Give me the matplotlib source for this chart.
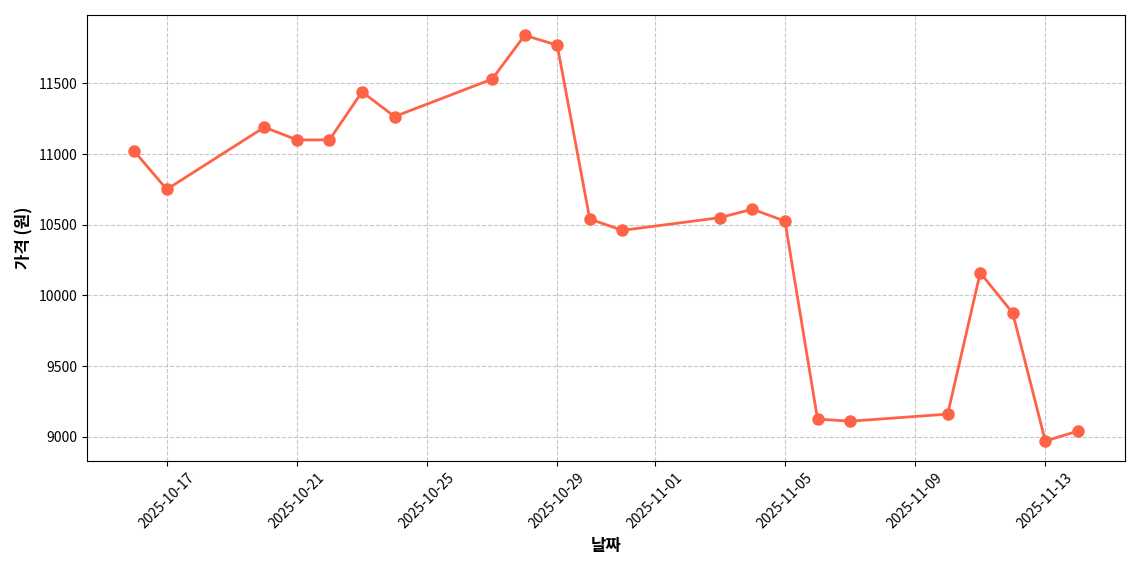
import matplotlib
matplotlib.use('Agg')
import matplotlib.pyplot as plt
import matplotlib.dates as mdates
import pandas as pd

plt.rcParams['font.family'] = ['Noto Sans CJK KR', 'DejaVu Sans']
plt.rcParams['axes.unicode_minus'] = False

dates = ['2025-10-16', '2025-10-17', '2025-10-20', '2025-10-21', '2025-10-22',
         '2025-10-23', '2025-10-24', '2025-10-27', '2025-10-28', '2025-10-29',
         '2025-10-30', '2025-10-31', '2025-11-03', '2025-11-04', '2025-11-05',
         '2025-11-06', '2025-11-07', '2025-11-10', '2025-11-11', '2025-11-12',
         '2025-11-13', '2025-11-14']
prices = [11020, 10750, 11190, 11100, 11100,
          11440, 11265, 11530, 11840, 11770,
          10540, 10460, 10550, 10610, 10525,
          9125, 9110, 9160, 10160, 9875,
          8970, 9040]

x = pd.to_datetime(dates)

fig, ax = plt.subplots(figsize=(11.4, 5.7), dpi=100)
ax.plot(x, prices, color='#FF6347', linewidth=2, marker='o', markersize=8)
ax.set_xlabel('날짜', fontsize=12, fontweight='bold')
ax.set_ylabel('가격 (원)', fontsize=12, fontweight='bold')
ax.grid(True, linestyle='--', alpha=0.7)
ax.xaxis.set_major_locator(mdates.DayLocator(bymonthday=[1, 5, 9, 13, 17, 21, 25, 29]))
ax.xaxis.set_major_formatter(mdates.DateFormatter('%Y-%m-%d'))
plt.xticks(rotation=45)
plt.tight_layout()
plt.savefig('out.png')
